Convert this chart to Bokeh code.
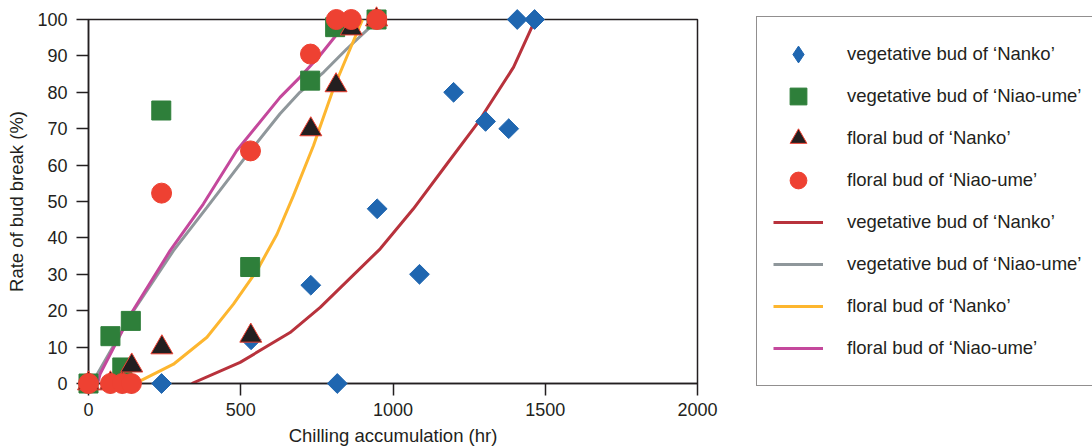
import math
from bokeh.plotting import figure
from bokeh.models import Range1d, SingleIntervalTicker, Legend, LegendItem, ColumnDataSource
from bokeh.embed import file_html
from bokeh.resources import INLINE

# ---------------- data ----------------
veg_nanko_x = [0, 72, 111, 141, 240, 534, 730, 817, 948, 1087, 1199, 1304, 1380, 1408, 1465]
veg_nanko_y = [0, 0, 0, 0, 0, 12, 27, 0, 48, 30, 80, 72, 70, 100, 100]

veg_niao_x = [0, 72, 111, 139, 239, 531, 728, 810, 946]
veg_niao_y = [0, 13, 4.4, 17.2, 75, 32, 83.2, 97.9, 100]

flo_nanko_x = [0, 72, 111, 142, 241, 533, 730, 813, 863, 946]
flo_nanko_y = [0, 0, 0, 4.9, 9.9, 13.1, 69.8, 81.9, 97.5, 100]

flo_niao_x = [0, 72, 111, 141, 240, 532, 729, 814, 863, 947]
flo_niao_y = [0, 0, 0, 0, 52.3, 63.9, 90.5, 100, 100, 100]

# fitted curves
fit_veg_nanko_x = [339, 498, 662, 761, 958, 1067, 1177, 1276, 1396, 1456, 1466]
fit_veg_nanko_y = [0, 5.8, 14, 20.9, 37, 48, 60.3, 71.3, 86.9, 97.9, 100]

fit_veg_niao_x = [14, 22, 148, 279, 389, 509, 629, 694, 772, 848, 925, 950]
fit_veg_niao_y = [0, 1.6, 20, 36.5, 48.4, 61.5, 74.1, 80, 85.5, 91.9, 97.9, 100]

fit_flo_nanko_x = [150, 170, 279, 389, 476, 553, 619, 673, 739, 804, 859, 900]
fit_flo_nanko_y = [0, 0.7, 5.3, 12.7, 21.8, 31, 41, 51.6, 65.4, 80.9, 91.9, 100]

fit_flo_niao_x = [30, 38, 142, 268, 377, 487, 629, 694, 760, 821, 845]
fit_flo_niao_y = [0, 2.6, 19.5, 36.5, 49.3, 64, 78.6, 84.1, 90.1, 96.5, 100]

labels = ["vegetative bud of \u2018Nanko\u2019", "vegetative bud of \u2018Niao-ume\u2019",
          "floral bud of \u2018Nanko\u2019", "floral bud of \u2018Niao-ume\u2019"]

x_ticks_interval = 500
y_ticks_interval = 10

# ---------------- style ----------------
FONT = "Liberation Sans"
TXT = "#231f20"
C_BLUE = "#1f66b0"
C_GREEN = "#2e7f3a"
C_BLACK = "#231f20"
C_RED = "#ee4132"
L_RED = "#b8323c"
L_GRAY = "#8f979b"
L_YEL = "#fdb62f"
L_MAG = "#c4489c"

p = figure(frame_width=609, frame_height=364,
           x_range=Range1d(0, 2000), y_range=Range1d(0, 100),
           min_border_left=88, min_border_right=395, min_border_top=19, min_border_bottom=65,
           output_backend="svg", toolbar_location=None, title=None)
p.grid.visible = False
p.outline_line_color = "#231f20"
p.outline_line_width = 1.5
p.background_fill_color = "white"
p.border_fill_color = "white"

p.xaxis.ticker = SingleIntervalTicker(interval=x_ticks_interval, num_minor_ticks=0)
p.yaxis.ticker = SingleIntervalTicker(interval=y_ticks_interval, num_minor_ticks=0)
for ax in (p.xaxis[0], p.yaxis[0]):
    ax.axis_line_color = "#231f20"
    ax.axis_line_width = 1.5
    ax.major_tick_line_color = "#231f20"
    ax.major_tick_line_width = 1.5
    ax.major_tick_out = 12
    ax.major_tick_in = 0
    ax.minor_tick_out = 0
    ax.minor_tick_in = 0
    ax.major_label_text_font = FONT
    ax.major_label_text_font_size = "18px"
    ax.major_label_text_color = TXT
    ax.axis_label_text_font = FONT
    ax.axis_label_text_font_size = "18.5px"
    ax.axis_label_text_font_style = "normal"
    ax.axis_label_text_color = TXT
p.xaxis.axis_label = "Chilling accumulation (hr)"
p.yaxis.axis_label = "Rate of bud break (%)"
p.xaxis.major_label_standoff = 7
p.xaxis.axis_label_standoff = 6
p.yaxis.major_label_standoff = 9
p.yaxis.axis_label_standoff = 7

# curves
r_l1 = p.line(fit_veg_nanko_x, fit_veg_nanko_y, line_color=L_RED, line_width=3)
r_l2 = p.line(fit_veg_niao_x, fit_veg_niao_y, line_color=L_GRAY, line_width=3)
r_l3 = p.line(fit_flo_nanko_x, fit_flo_nanko_y, line_color=L_YEL, line_width=3)
r_l4 = p.line(fit_flo_niao_x, fit_flo_niao_y, line_color=L_MAG, line_width=3)

# points
r_d = p.scatter(veg_nanko_x, veg_nanko_y, marker="square", size=14, angle=math.pi / 4,
                fill_color=C_BLUE, line_color=C_BLUE, level="overlay")
r_s = p.scatter(veg_niao_x, veg_niao_y, marker="square", size=19,
                fill_color=C_GREEN, line_color=C_GREEN, level="overlay")
r_t = p.scatter(flo_nanko_x, flo_nanko_y, marker="triangle", size=22,
                fill_color=C_BLACK, line_color=C_RED, line_width=1, level="overlay")
r_c = p.scatter(flo_niao_x, flo_niao_y, marker="circle", size=20,
                fill_color=C_RED, line_color=C_RED, level="overlay")

# legend-only swatch for the diamond (legend markers are drawn unrotated)
leg_src = ColumnDataSource(dict(x=[float("nan")], y=[float("nan")]))
r_d_leg = p.scatter("x", "y", source=leg_src, marker="diamond",
                    fill_color=C_BLUE, line_color=C_BLUE)

items = [
    LegendItem(label=labels[0], renderers=[r_d_leg]),
    LegendItem(label=labels[1], renderers=[r_s]),
    LegendItem(label=labels[2], renderers=[r_t]),
    LegendItem(label=labels[3], renderers=[r_c]),
    LegendItem(label=labels[0], renderers=[r_l1]),
    LegendItem(label=labels[1], renderers=[r_l2]),
    LegendItem(label=labels[2], renderers=[r_l3]),
    LegendItem(label=labels[3], renderers=[r_l4]),
]
legend = Legend(items=items, location=(59, -3), orientation="vertical",
                glyph_width=50, glyph_height=42, label_height=24, spacing=0,
                padding=16, margin=0, label_standoff=24, label_width=250,
                label_text_font=FONT, label_text_font_size="18.5px", label_text_color=TXT,
                border_line_color="#231f20", border_line_width=1.5,
                background_fill_color="white", background_fill_alpha=1.0)
p.add_layout(legend, "right")

open("out.html", "w").write(file_html(p, INLINE))
